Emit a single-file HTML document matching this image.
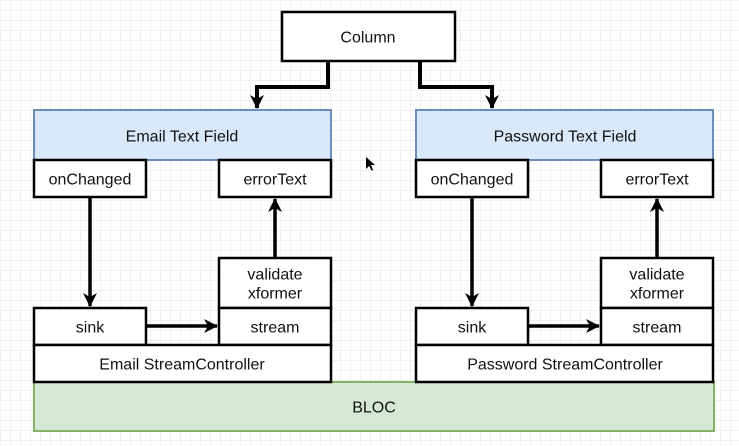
<!DOCTYPE html>
<html><head><style>
body{margin:0;width:739px;height:441px;overflow:hidden;background:#fff;
background-image:linear-gradient(#f1f1f1 1px,transparent 1px),linear-gradient(90deg,#f1f1f1 1px,transparent 1px);background-size:10px 10px;}
svg text{font-family:"Liberation Sans",sans-serif;font-size:16px;fill:#111;text-anchor:middle;dominant-baseline:central}
</style></head><body>
<svg width="739" height="441" xmlns="http://www.w3.org/2000/svg">
<defs>
<marker id="b" markerWidth="14" markerHeight="14" refX="13" refY="7" orient="auto" markerUnits="userSpaceOnUse"><path d="M0,0 L14,7 L0,14 L4,7 Z" fill="#000"/></marker></defs>
<g stroke="#000" stroke-width="2.5" fill="#fff">
<rect x="282" y="12" width="173" height="49"/>
</g>
<text x="368" y="38">Column</text>
<g stroke="#000" stroke-width="4" fill="none">
<polyline points="328,61 328,87 257,87 257,108" marker-end="url(#b)"/>
<polyline points="420,61 420,87 492,87 492,108" marker-end="url(#b)"/>
</g>
<rect x="34" y="382" width="680" height="49" fill="#d5e8d4" stroke="#82b366" stroke-width="2"/>
<text x="374" y="408">BLOC</text>
<g id="L">
<rect x="34" y="110" width="297" height="50" fill="#dae8fc" stroke="#6c8ebf" stroke-width="2"/>
<g stroke="#000" stroke-width="2.5" fill="#fff">
<rect x="34" y="160" width="112" height="37"/>
<rect x="219" y="160" width="112" height="37"/>
<rect x="219" y="258" width="112" height="50"/>
<rect x="219" y="308" width="112" height="37"/>
<rect x="34" y="308" width="112" height="37"/>
<rect x="34" y="345" width="297" height="37"/>
</g>
<g stroke="#000" stroke-width="3.5" fill="none">
<line x1="90" y1="197" x2="90" y2="306" marker-end="url(#b)"/>
<line x1="275" y1="258" x2="275" y2="199" marker-end="url(#b)"/>
<line x1="146" y1="326" x2="217" y2="326" marker-end="url(#b)"/>
</g>
<text x="90" y="180">onChanged</text>
<text x="275" y="180">errorText</text>
<text x="275" y="275">validate</text>
<text x="275" y="294">xformer</text>
<text x="275" y="328">stream</text>
<text x="90" y="328">sink</text>
</g>
<text x="182" y="137">Email Text Field</text>
<text x="182" y="365">Email StreamController</text>
<use href="#L" x="382"/>
<text x="565" y="137">Password Text Field</text>
<text x="565" y="365">Password StreamController</text>
<path d="M366,157 L366,169 L369,166 L372,171 L373,170 L371,165 L375,165 Z" fill="#000"/>
</svg>
</body></html>
